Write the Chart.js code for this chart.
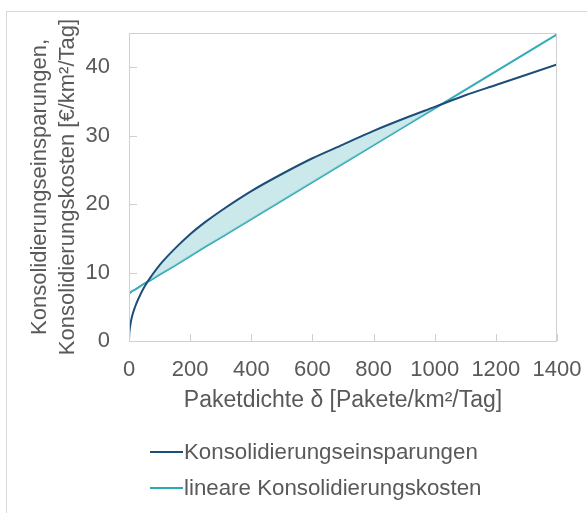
<!DOCTYPE html>
<html>
<head>
<meta charset="utf-8">
<script src="https://cdn.jsdelivr.net/npm/chart.js@4"></script>
<style>
    body { margin: 0; background: #fff; }
    #wrap { position: relative; width: 587px; height: 513px; overflow: hidden; }
    #frame { position: absolute; left: 6px; top: 11px; width: 600px; height: 520px; border: 1px solid #d9d9d9; box-sizing: border-box; }
    canvas { position: absolute; left: 0; top: 0; }
    .leg { position: absolute; left: 150px; font: 22.3px "Liberation Sans", Arial, sans-serif; color: #595959; white-space: nowrap; }
    .leg span { display: inline-block; width: 33px; height: 2px; vertical-align: middle; margin-right: 1px; position: relative; top: -1px; }
</style>
</head>
<body>
<div id="wrap">
    <div id="frame"></div>
    <canvas id="chart" width="587" height="513"></canvas>
    <div class="leg" id="leg1" style="top: 439px;"><span style="background:#1d4e79"></span>Konsolidierungseinsparungen</div>
    <div class="leg" id="leg2" style="top: 475px;"><span style="background:#2aa9b4"></span>lineare Konsolidierungskosten</div>
</div>
<script>
const dichte = [0, 1, 2, 5, 10, 20, 30, 50, 75, 100, 150, 200, 250, 300, 400, 500, 600, 700, 800, 900, 1000, 1100, 1200, 1300, 1400];
const einsparungen = [0, 1.2, 1.6, 2.5, 3.6, 5.0, 6.1, 7.9, 9.6, 11.1, 13.5, 15.6, 17.4, 19.0, 21.9, 24.4, 26.7, 28.7, 30.7, 32.5, 34.2, 35.9, 37.4, 38.9, 40.4];
const kosten = [7.0, 7.0, 7.1, 7.1, 7.3, 7.5, 7.8, 8.4, 9.0, 9.7, 11.0, 12.4, 13.8, 15.1, 17.8, 20.5, 23.2, 25.9, 28.6, 31.3, 34.0, 36.7, 39.4, 42.1, 44.8];
const xTicks = [0, 200, 400, 600, 800, 1000, 1200, 1400];
const yTicks = [0, 10, 20, 30, 40];

const grau = '#595959';
const font = { family: '"Liberation Sans", Arial, sans-serif', size: 22 };
const titelFont = { family: '"Liberation Sans", Arial, sans-serif', size: 23 };

// Rahmen um den Plotbereich und kurze Ticks nach innen
const rahmenPlugin = {
    id: 'rahmen',
    afterDatasetsDraw(chart) {
        const { ctx, chartArea: a, scales } = chart;
        ctx.save();
        ctx.strokeStyle = '#d0d0d0';
        ctx.lineWidth = 1;
        ctx.strokeRect(a.left + 0.5, a.top + 0.5, a.right - a.left - 1, a.bottom - a.top);
        ctx.beginPath();
        xTicks.forEach(v => {
            const x = Math.round(scales.x.getPixelForValue(v)) + 0.5;
            ctx.moveTo(x, a.bottom);
            ctx.lineTo(x, a.bottom - 7);
        });
        yTicks.forEach(v => {
            const y = Math.round(scales.y.getPixelForValue(v)) + 0.5;
            ctx.moveTo(a.left, y);
            ctx.lineTo(a.left + 8, y);
        });
        ctx.stroke();
        ctx.restore();
    }
};

const ctx = document.getElementById('chart').getContext('2d');
new Chart(ctx, {
    type: 'line',
    data: {
        labels: dichte,
        datasets: [{
            label: 'Konsolidierungseinsparungen',
            data: dichte.map((x, i) => ({ x: x, y: einsparungen[i] })),
            borderColor: '#1d4e79',
            borderWidth: 2,
            pointRadius: 0,
            cubicInterpolationMode: 'monotone',
            fill: { target: 1, above: 'rgba(168, 216, 222, 0.6)', below: 'rgba(0,0,0,0)' }
        }, {
            label: 'lineare Konsolidierungskosten',
            data: dichte.map((x, i) => ({ x: x, y: kosten[i] })),
            borderColor: '#2aa9b4',
            borderWidth: 2,
            pointRadius: 0,
            fill: false
        }]
    },
    options: {
        responsive: false,
        animation: false,
        layout: { padding: { top: 33, right: 30, left: 0, bottom: 92 } },
        plugins: {
            legend: { display: false },
            tooltip: { enabled: false }
        },
        scales: {
            x: {
                type: 'linear',
                min: 0,
                max: 1400,
                afterBuildTicks: s => { s.ticks = xTicks.map(v => ({ value: v })); },
                afterFit: s => { s.height = 80; s.paddingLeft = 0; s.paddingRight = 0; },
                grid: { display: false, drawTicks: false },
                border: { display: false },
                ticks: { color: grau, font: font, padding: 16, maxRotation: 0, callback: v => String(v) },
                title: { display: true, text: 'Paketdichte δ [Pakete/km²/Tag]', color: grau, font: titelFont, padding: { top: 0, bottom: 7 } }
            },
            y: {
                min: 0,
                max: 45,
                afterBuildTicks: s => { s.ticks = yTicks.map(v => ({ value: v })); },
                afterFit: s => { s.width = 129; s.paddingTop = 0; s.paddingBottom = 0; },
                grid: { display: false, drawTicks: false },
                border: { display: false },
                ticks: { color: grau, font: font, padding: 19, callback: v => String(v) },
                title: {
                    display: true,
                    text: ['Konsolidierungseinsparungen,', 'Konsolidierungskosten [€/km²/Tag]'],
                    color: grau,
                    font: Object.assign({}, font, { lineHeight: 1.27 }),
                    padding: { top: 26, bottom: 0 }
                }
            }
        }
    },
    plugins: [rahmenPlugin]
});
</script>
</body>
</html>
